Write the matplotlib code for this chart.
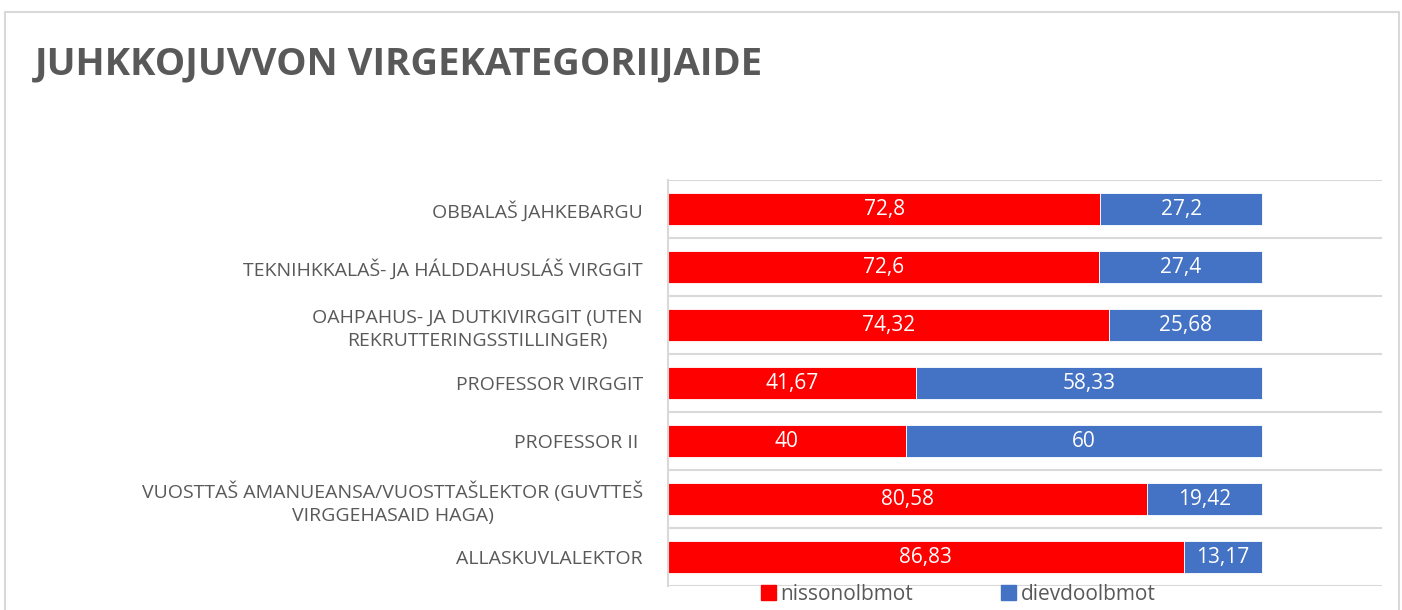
import matplotlib.pyplot as plt
from matplotlib.patches import Rectangle, Patch

# kategoriijat ja árvvut
kategoriijat = [
    "OBBALAŠ JAHKEBARGU",
    "TEKNIHKKALAŠ- JA HÁLDDAHUSLÁŠ VIRGGIT",
    "OAHPAHUS- JA DUTKIVIRGGIT (UTEN\nREKRUTTERINGSSTILLINGER)",
    "PROFESSOR VIRGGIT",
    "PROFESSOR II ",
    "VUOSTTAŠ AMANUEANSA/VUOSTTAŠLEKTOR (GUVTTEŠ\nVIRGGEHASAID HAGA)",
    "ALLASKUVLALEKTOR",
]
nissonolbmot = [72.8, 72.6, 74.32, 41.67, 40, 80.58, 86.83]
dievdoolbmot = [27.2, 27.4, 25.68, 58.33, 60, 19.42, 13.17]
ráidu_namat = ["nissonolbmot", "dievdoolbmot"]

rukses = "#FF0000"
alit = "#4472C4"
ránes = "#595959"

fig = plt.figure(figsize=(14.02, 6.10), dpi=100)
ax = fig.add_axes([668 / 1402, 1 - 586 / 610, (1382 - 668) / 1402, (586 - 180) / 610])

y = list(range(len(kategoriijat)))
ax.barh(y, nissonolbmot, height=0.55, color=rukses, edgecolor="white", linewidth=0.6)
ax.barh(y, dievdoolbmot, left=nissonolbmot, height=0.55, color=alit, edgecolor="white", linewidth=0.6)

# árvočállosat
for i in y:
    n, d = nissonolbmot[i], dievdoolbmot[i]
    ax.text(n / 2, i, f"{n:g}".replace(".", ","), ha="center", va="center",
            color="white", fontsize=15, family="Open Sans")
    ax.text(n + d / 2, i, f"{d:g}".replace(".", ","), ha="center", va="center",
            color="white", fontsize=15, family="Open Sans")

ax.set_xlim(0, 120.2)
ax.set_ylim(len(kategoriijat) - 0.5, -0.5)
ax.set_yticks(y)
ax.set_yticklabels(kategoriijat, fontsize=14, color=ránes, family="Open Sans",
                   multialignment="center", linespacing=1.35)
ax.tick_params(axis="y", length=0, pad=18)
ax.set_xticks([])

# rasterlinját kategoriijaid gaskkas
for b in range(len(kategoriijat) + 1):
    ax.axhline(b - 0.5, color="#D9D9D9", linewidth=1.5, zorder=0)
for s in ["top", "right", "bottom"]:
    ax.spines[s].set_visible(False)
ax.spines["left"].set_color("#D9D9D9")
ax.spines["left"].set_linewidth(1.5)

fig.text(35 / 1402, 1 - 64 / 610, "JUHKKOJUVVON VIRGEKATEGORIIJAIDE", fontsize=27.5,
         fontweight="bold", color=ránes, family="Open Sans", va="center", ha="left")

fig.patches.append(Rectangle((5 / 1402, -0.1), 1394 / 1402, 1.1 - 12 / 610,
                             transform=fig.transFigure, fill=False,
                             edgecolor="#D9D9D9", linewidth=1.5))

handles = [Patch(color=rukses), Patch(color=alit)]
fig.legend(handles, ráidu_namat, loc="center", bbox_to_anchor=(958 / 1402, 1 - 594 / 610),
           ncol=2, frameon=False, handlelength=0.75, handleheight=0.75,
           handletextpad=0.2, columnspacing=4.2, labelcolor=ránes,
           prop={"family": "Open Sans", "size": 15})

fig.savefig("out.png", dpi=100)
